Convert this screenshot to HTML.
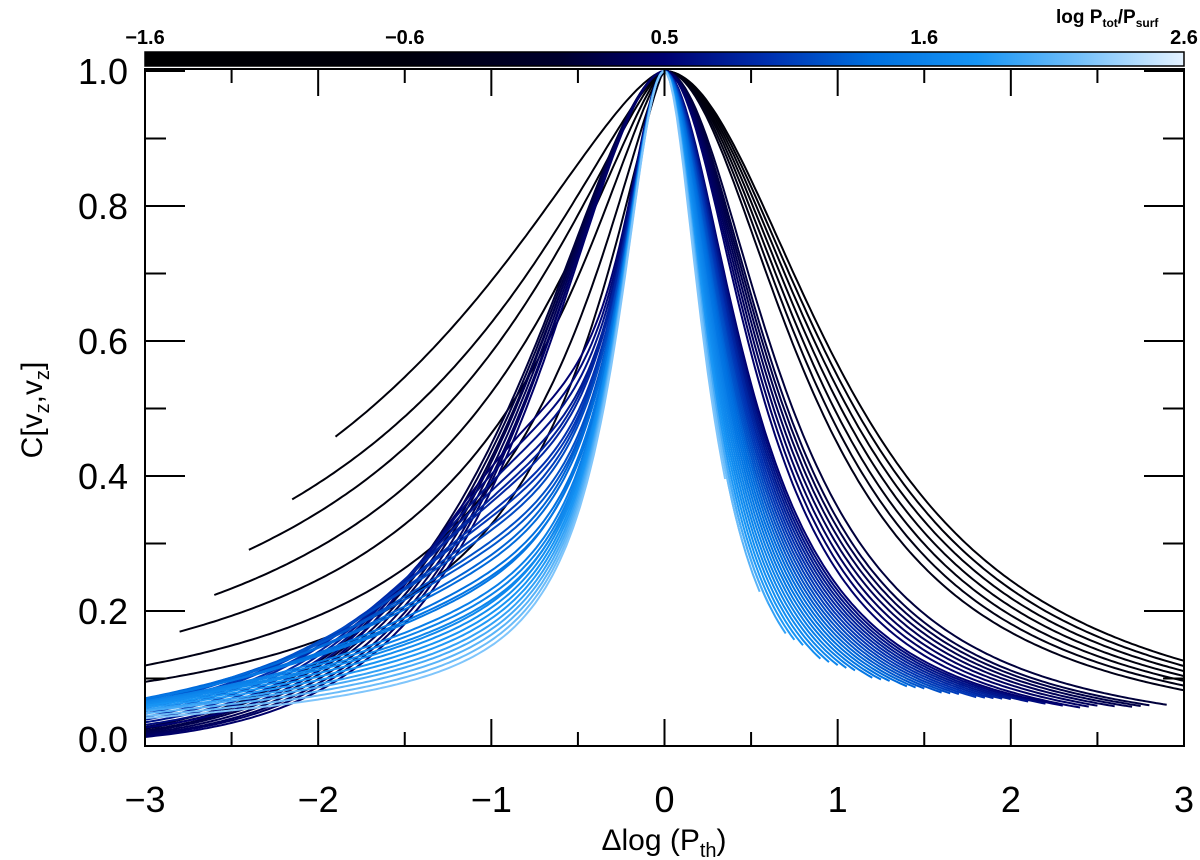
<!DOCTYPE html>
<html><head><meta charset="utf-8"><style>
html,body{margin:0;padding:0;background:#fff;}
svg{display:block;font-family:"Liberation Sans",sans-serif;}
</style></head><body>
<svg id="chart" width="1200" height="860" viewBox="0 0 1200 860" xmlns="http://www.w3.org/2000/svg">
<defs>
<linearGradient id="cmap" x1="0" x2="1" y1="0" y2="0">
<stop offset="0" stop-color="#000000"/><stop offset="0.25" stop-color="#00000c"/>
<stop offset="0.4" stop-color="#00002e"/><stop offset="0.5" stop-color="#000070"/>
<stop offset="0.6" stop-color="#0030b0"/><stop offset="0.7" stop-color="#0070e0"/>
<stop offset="0.8" stop-color="#1694f4"/><stop offset="0.9" stop-color="#74c0fa"/>
<stop offset="1" stop-color="#e4f2ff"/>
</linearGradient>
<clipPath id="plotclip"><rect x="145" y="68" width="1039" height="679"/></clipPath>
</defs>
<g id="curves" clip-path="url(#plotclip)"></g>
<g id="axes"></g>
</svg>
<script>
// ---- data: per-curve parameters ----
const colorPos = [0.18,0.2,0.22,0.24,0.26,0.28,0.3, 0.42,0.43,0.44,0.45,0.46,0.47,0.48,0.49,
 0.5,0.52,0.54,0.55,0.57,0.58,0.6,0.61,0.62,0.64,0.65,0.66,0.68,0.69,0.7,0.71,0.72,0.74,0.75,0.76,0.77,0.78,0.8,0.81,0.83,0.85,0.87,0.89,0.91];
const leftShoulder = [1,1,1,1,1,1,1, 1,1,1,1,1,1,1,1,
 0.44,0.42,0.4,0.38,0.36,0.35,0.33,0.32,0.3,0.29,0.27,0.26,0.24,0.23,0.21,0.2,0.19,0.17,0.16,0.15,0.14,0.13,0.12,0.11,0.1,0.09,0.08,0.07,0.06];
const leftCoreW = [0.3,0.3,0.3,0.3,0.3,0.3,0.3, 0.3,0.3,0.3,0.3,0.3,0.3,0.3,0.3,
 0.28,0.28,0.28,0.28,0.29,0.29,0.29,0.29,0.3,0.3,0.3,0.3,0.31,0.31,0.31,0.31,0.32,0.32,0.32,0.32,0.33,0.33,0.33,0.33,0.33,0.33,0.33,0.33,0.33];
const leftTailW = [1.70,1.45,1.27,1.07,0.9,0.72,0.6, 1.1,1.08,1.06,1.04,1.02,1.0,0.98,0.96,
 1.5,1.55,1.6,1.65,1.7,1.75,1.8,1.85,1.9,1.95,2.0,2.05,2.1,2.15,2.2,2.25,2.3,2.35,2.4,2.45,2.5,2.55,2.6,2.65,2.7,2.8,2.85,2.9,3.0];
const leftTailP = [1.5,1.4,1.4,1.4,1.4,1.4,1.4, 1.7,1.7,1.7,1.75,1.75,1.75,1.8,1.8,
 4.2,4.1,4.0,3.9,3.8,3.7,3.6,3.5,3.4,3.3,3.2,3.1,3.0,2.95,2.9,2.85,2.8,2.75,2.7,2.65,2.6,2.6,2.55,2.55,2.5,2.5,2.5,2.5,2.5];
const leftCutoff = [99,99,99,99,99,99,99, 2.3,2.25,2.2,2.2,2.15,2.1,2.1,2.05,
 99,99,99,99,99,99,99,99,99,99,99,99,99,99,99,99,99,99,99,99,99,99,99,99,99,99,99,99,99];
const xStart = [-1.9,-2.15,-2.4,-2.6,-2.8,-3,-3, -3,-3,-3,-3,-3,-3,-3,-3,
 -3,-3,-3,-3,-3,-3,-3,-3,-3,-3,-3,-3,-3,-3,-3,-3,-3,-3,-3,-3,-3,-3,-3,-3,-3,-3,-3,-3,-3];
const rightW = [1.14,1.1,1.06,1.02,0.98,0.94,0.9, 0.74,0.71,0.69,0.67,0.65,0.63,0.61,0.59,
 0.54,0.53,0.52,0.51,0.5,0.49,0.48,0.47,0.46,0.45,0.44,0.43,0.42,0.41,0.4,0.39,0.38,0.37,0.36,0.35,0.34,0.33,0.32,0.31,0.3,0.3,0.29,0.29,0.28];
const rightP = [2.0,2.0,2.0,2.0,2.0,2.0,2.0, 2.0,2.0,2.0,2.0,2.0,2.0,2.0,2.0,
 1.9,1.9,1.9,1.9,1.9,1.9,1.9,1.9,1.9,1.9,1.9,1.9,1.9,1.9,1.9,1.9,1.9,1.9,1.9,1.9,1.9,1.9,1.9,1.9,1.9,1.9,1.9,1.9,1.9];
const xEnd = [3,3,3,3,3,3,3, 2.9,2.8,2.75,2.7,2.6,2.5,2.45,2.4,
 2.3,2.2,2.1,2.0,1.95,1.9,1.85,1.8,1.7,1.65,1.6,1.5,1.45,1.4,1.3,1.25,1.2,1.1,1.05,1.0,0.95,0.9,0.8,0.75,0.7,0.6,0.55,0.45,0.35];
const xTickLabels = ["−3","−2","−1","0","1","2","3"];
const xTickVals = [-3,-2,-1,0,1,2,3];
const yTickLabels = ["0.0","0.2","0.4","0.6","0.8","1.0"];
const yTickVals = [0,0.2,0.4,0.6,0.8,1.0];
const cbarLabels = ["−1.6","−0.6","0.5","1.6","2.6"];
const cbarVals = [-1.6,-0.55,0.5,1.55,2.6];

// ---- scales ----
const X0=145, X1=1184, Y0=746, Y1=71;
const sx = v => X0 + (v+3)/6*(X1-X0);
const sy = v => Y0 - v*(Y0-Y1);
const cbx = v => X0 + (v+1.6)/4.2*(X1-X0);
const NS='http://www.w3.org/2000/svg';
function mk(tag, attrs, parent){const e=document.createElementNS(NS,tag);for(const k in attrs)e.setAttribute(k,attrs[k]);parent.appendChild(e);return e;}

const stops=[[0,[0,0,0]],[0.25,[0,0,12]],[0.4,[0,0,46]],[0.5,[0,0,112]],[0.6,[0,48,176]],[0.7,[0,112,224]],[0.8,[22,148,244]],[0.9,[116,192,250]],[1,[228,242,255]]];
function cmap(t){for(let i=1;i<stops.length;i++){if(t<=stops[i][0]){const a=stops[i-1],b=stops[i];const f=(t-a[0])/(b[0]-a[0]);const c=a[1].map((v,j)=>Math.round(v+(b[1][j]-v)*f));return `rgb(${c[0]},${c[1]},${c[2]})`;}}return 'rgb(228,242,255)';}

function corr(i,x){
  const a=Math.abs(x);
  if(x<0){const s=leftShoulder[i];
    const base=(1-s)/(1+Math.pow(a/leftCoreW[i],2))+s/(1+Math.pow(a/leftTailW[i],leftTailP[i]));
    return base*Math.exp(-Math.pow(a/leftCutoff[i],2));}
  return 1/(1+Math.pow(a/rightW[i],rightP[i]));
}
const cg=document.getElementById('curves');
for(let i=0;i<colorPos.length;i++){
  let d='';const n=Math.round((xEnd[i]-xStart[i])/0.02);
  for(let k=0;k<=n;k++){const x=xStart[i]+(xEnd[i]-xStart[i])*k/n;d+=(k?'L':'M')+sx(x).toFixed(1)+','+sy(corr(i,x)).toFixed(1);}
  const p=mk('path',{d:d,fill:'none',stroke:cmap(colorPos[i]),'stroke-width':2},cg);
  
  
}

const ax=document.getElementById('axes');
const frame=mk('rect',{x:X0,y:69,width:X1-X0,height:Y0-69,fill:'none',stroke:'#000','stroke-width':2},ax);


for(let v=-3;v<=3.001;v+=0.5){const maj=Math.abs(v-Math.round(v))<1e-6;const L=maj?27:14;const x=sx(v);
  mk('line',{x1:x,x2:x,y1:Y0,y2:Y0-L,stroke:'#000','stroke-width':2},ax);
  mk('line',{x1:x,x2:x,y1:69,y2:69+L,stroke:'#000','stroke-width':2},ax);}
for(let v=0;v<=1.001;v+=0.1){const maj=Math.round(v*10)%2===0;const L=maj?40:21;const y=sy(v);
  mk('line',{x1:X0,x2:X0+L,y1:y,y2:y,stroke:'#000','stroke-width':2},ax);
  mk('line',{x1:X1,x2:X1-L,y1:y,y2:y,stroke:'#000','stroke-width':2},ax);}
xTickLabels.forEach((t,i)=>{const e=mk('text',{x:sx(xTickVals[i]),y:812,'font-size':36,'text-anchor':'middle'},ax);e.textContent=t;
  
  });
yTickLabels.forEach((t,i)=>{let y=sy(yTickVals[i])+13;if(i===0)y-=7;const e=mk('text',{x:128,y:y,'font-size':36,'text-anchor':'end'},ax);e.textContent=t;
  
  });
const cb=mk('rect',{x:X0,y:52,width:X1-X0,height:14,fill:'url(#cmap)',stroke:'#000','stroke-width':1.5},ax);


cbarLabels.forEach((t,i)=>{const e=mk('text',{x:cbx(cbarVals[i]),y:44,'font-size':20,'font-weight':'bold','text-anchor':'middle'},ax);e.textContent=t;
  
  });
</script>
<svg style="position:absolute;left:0;top:0" width="1200" height="860">
<text x="1056" y="23" font-family="Liberation Sans, sans-serif" font-size="19" font-weight="bold">log  P<tspan font-size="12" dy="4">tot</tspan><tspan dy="-4">/P</tspan><tspan font-size="12" dy="4">surf</tspan></text>
<text x="664" y="850" font-family="Liberation Sans, sans-serif" font-size="30" text-anchor="middle">Δlog (P<tspan font-size="20" dy="7">th</tspan><tspan dy="-7">)</tspan></text>
<text transform="translate(42,410) rotate(-90)" font-family="Liberation Sans, sans-serif" font-size="30" text-anchor="middle">C[v<tspan font-size="20" dy="7">z</tspan><tspan dy="-7">,v</tspan><tspan font-size="20" dy="7">z</tspan><tspan dy="-7">]</tspan></text>
</svg>
</body></html>
